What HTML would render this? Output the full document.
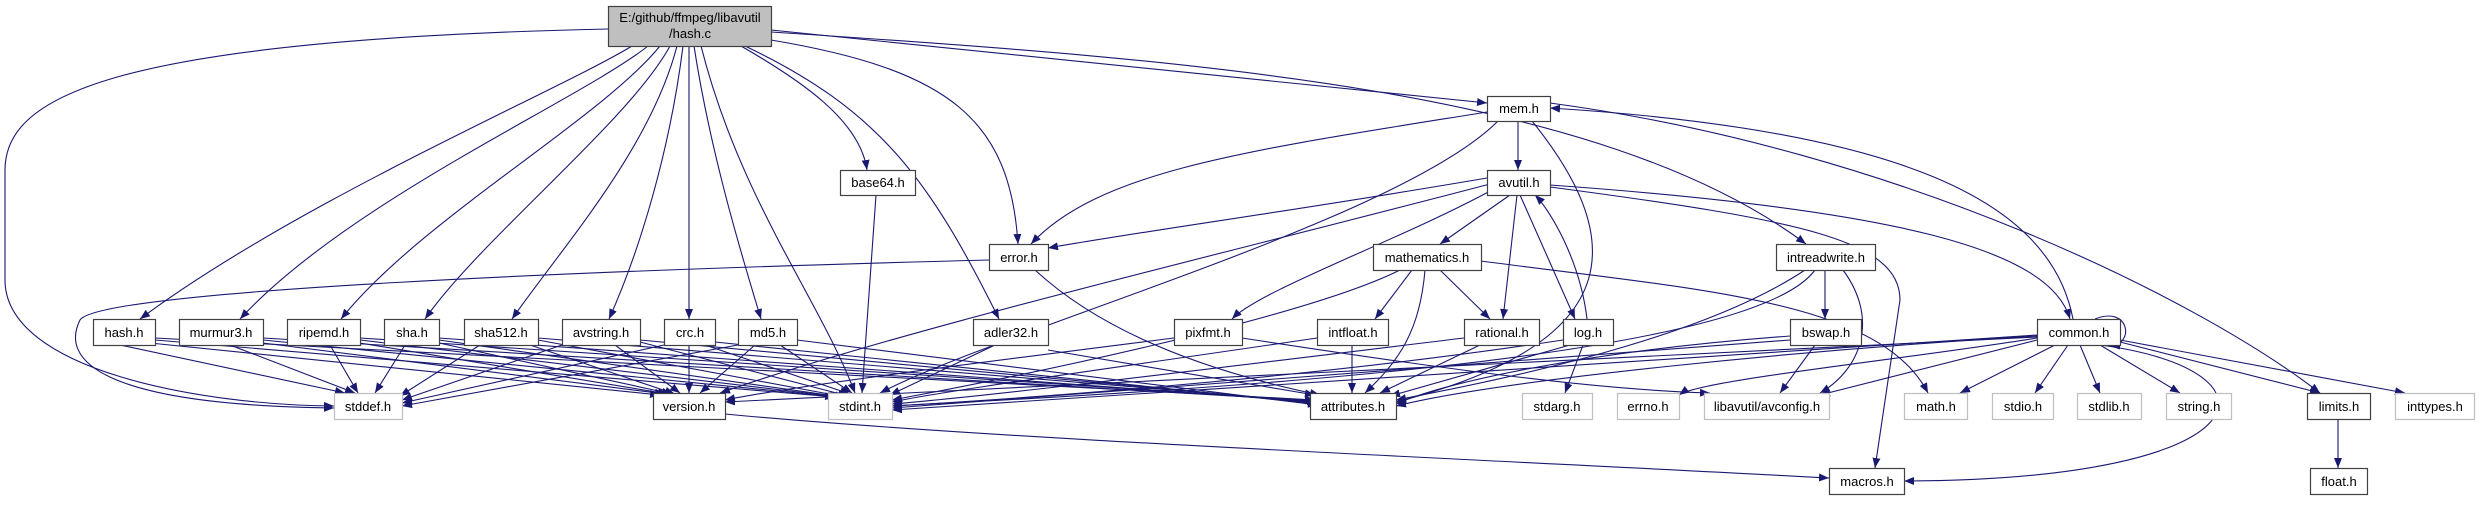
<!DOCTYPE html>
<html><head><meta charset="utf-8"><style>
html,body{margin:0;padding:0;background:#fff;}
svg text{font-family:"Liberation Sans",sans-serif;font-size:13px;text-anchor:middle;fill:#000;}
</style></head><body>
<svg width="2479" height="500" viewBox="0 0 2479 500" xmlns="http://www.w3.org/2000/svg">
<defs><marker id="a" markerWidth="10" markerHeight="8" refX="10" refY="4" orient="auto" markerUnits="userSpaceOnUse"><path d="M0,0 L10,4 L0,8 z" fill="#191970"/></marker></defs>
<rect width="2479" height="500" fill="#fff"/>
<g fill="none" stroke="#191970" stroke-width="1.1" marker-end="url(#a)">
<path d="M632,46 C560,90 300,200 140,319"/>
<path d="M648,46 C580,100 350,200 240,319"/>
<path d="M660,46 C600,120 420,220 341,319"/>
<path d="M670,46 C630,120 480,240 425,319"/>
<path d="M677,46 C650,150 560,250 512,319"/>
<path d="M683,46 C670,150 640,250 609,319"/>
<path d="M689,46 L689,319"/>
<path d="M694,46 C710,150 740,250 761,319"/>
<path d="M701,46 C740,200 820,300 855,393"/>
<path d="M741,46 C800,80 860,120 867,170"/>
<path d="M745,46 C880,110 930,180 999,319"/>
<path d="M771,40 C950,70 1010,120 1018,244"/>
<path d="M771,30 L1487,103"/>
<path d="M771,32 C1200,60 1600,90 1806,244"/>
<path d="M608,29 C100,40 5,100 5,170 L5,280 C5,370 200,405 334,406"/>
<path d="M1487,112 C1250,150 1100,170 1031,244"/>
<path d="M1518,121 L1518,170"/>
<path d="M1498,121 C1400,220 1000,330 880,393"/>
<path d="M1532,121 C1620,230 1640,340 1396,402"/>
<path d="M1550,103 C1900,150 2200,300 2320,393"/>
<path d="M2073,319 C2050,200 1900,130 1550,108"/>
<path d="M1487,178 C1300,210 1150,230 1048,248"/>
<path d="M1490,184 C1200,260 900,330 720,393"/>
<path d="M1492,190 C1400,240 1260,290 1232,319"/>
<path d="M1510,195 L1440,244"/>
<path d="M1517,195 L1503,319"/>
<path d="M1520,195 L1575,319"/>
<path d="M1587,319 C1580,260 1550,210 1535,195"/>
<path d="M1550,185 C1900,210 2050,250 2070,319"/>
<path d="M1550,187 C1800,220 1900,240 1900,300 L1875,468"/>
<path d="M1412,270 L1375,319"/>
<path d="M1440,270 L1490,319"/>
<path d="M1425,270 C1420,330 1400,360 1365,393"/>
<path d="M1400,270 C1300,320 1000,380 892,400"/>
<path d="M1481,261 C1700,290 1880,300 1928,393"/>
<path d="M1352,345 L1352,393"/>
<path d="M1317,338 C1100,370 950,390 892,402"/>
<path d="M1480,345 L1380,393"/>
<path d="M1464,338 C1200,370 1000,395 892,404"/>
<path d="M1583,345 L1565,393"/>
<path d="M1570,345 L1390,396"/>
<path d="M1563,340 C1300,380 1000,400 892,406"/>
<path d="M1174,338 C1000,360 800,385 725,400"/>
<path d="M1242,338 C1450,370 1600,390 1710,393"/>
<path d="M989,260 C600,270 100,290 80,320 C60,360 100,405 334,408"/>
<path d="M1035,270 C1100,330 1200,370 1320,395"/>
<path d="M995,345 L890,395"/>
<path d="M1048,350 L1315,395"/>
<path d="M876,195 L862,393"/>
<path d="M1825,270 L1825,319"/>
<path d="M1843,270 C1880,320 1860,370 1820,393"/>
<path d="M1805,270 C1700,340 1500,380 1396,400"/>
<path d="M1815,270 C1750,360 1200,390 892,406"/>
<path d="M1815,345 L1780,393"/>
<path d="M1790,336 C1600,350 1450,380 1396,404"/>
<path d="M1790,340 L892,408"/>
<path d="M2095,319 C2130,305 2135,345 2110,346"/>
<path d="M2055,345 L1960,393"/>
<path d="M2068,345 L2035,393"/>
<path d="M2080,345 L2100,393"/>
<path d="M2100,345 L2180,393"/>
<path d="M2120,342 L2320,393"/>
<path d="M2120,340 L2405,393"/>
<path d="M2100,345 C2290,370 2270,480 1904,481"/>
<path d="M2037,340 L1820,395"/>
<path d="M2037,336 C1800,350 1500,380 1396,406"/>
<path d="M2037,335 L892,410"/>
<path d="M2037,338 C1900,360 1700,380 1679,395"/>
<path d="M2037,337 L725,402"/>
<path d="M2338,419 L2338,468"/>
<path d="M725,414 C1000,440 1500,460 1829,478"/>
<path d="M120,345 L345,393"/><path d="M150,343 L660,395"/><path d="M155,340 L835,397"/><path d="M155,338 L1315,400"/>
<path d="M230,345 L355,393"/><path d="M263,343 L665,394"/><path d="M263,340 L838,397"/><path d="M263,338 L1315,401"/>
<path d="M330,345 L358,393"/><path d="M360,343 L668,394"/><path d="M360,340 L840,397"/><path d="M360,338 L1316,401"/>
<path d="M405,345 L375,393"/><path d="M439,343 L672,394"/><path d="M439,340 L842,397"/><path d="M439,338 L1317,402"/>
<path d="M480,345 L400,396"/><path d="M530,345 L675,394"/><path d="M538,340 L845,397"/><path d="M538,338 L1318,402"/>
<path d="M562,345 L402,400"/><path d="M615,345 L680,393"/><path d="M640,342 L848,396"/><path d="M640,340 L1318,403"/>
<path d="M664,345 L402,403"/><path d="M689,345 L689,393"/><path d="M705,345 L850,394"/><path d="M715,342 L1318,404"/>
<path d="M738,345 L402,406"/><path d="M755,345 L700,393"/><path d="M780,345 L852,393"/><path d="M797,340 L1318,405"/>
</g>
<g stroke-width="1.2">
<rect x="608.5" y="6.5" width="163" height="40" fill="#bfbfbf" stroke="#404040"/>
<g fill="#fff" stroke="#404040">
<rect x="93.5" y="319.5" width="62" height="26"/><rect x="179.5" y="319.5" width="84" height="26"/>
<rect x="287.5" y="319.5" width="73" height="26"/><rect x="384.5" y="319.5" width="55" height="26"/>
<rect x="464.5" y="319.5" width="74" height="26"/><rect x="562.5" y="319.5" width="78" height="26"/>
<rect x="664.5" y="319.5" width="51" height="26"/><rect x="738.5" y="319.5" width="59" height="26"/>
<rect x="653.5" y="393.5" width="72" height="26"/><rect x="1310.5" y="393.5" width="86" height="26"/>
<rect x="2307.5" y="393.5" width="63" height="26"/>
<rect x="1487.5" y="96.5" width="63" height="25"/><rect x="840.5" y="170.5" width="75" height="25"/>
<rect x="1487.5" y="170.5" width="63" height="25"/>
<rect x="989.5" y="244.5" width="59" height="26"/><rect x="1373.5" y="244.5" width="108" height="26"/>
<rect x="1776.5" y="244.5" width="99" height="26"/>
<rect x="973.5" y="319.5" width="75" height="26"/><rect x="1174.5" y="319.5" width="68" height="26"/>
<rect x="1317.5" y="319.5" width="71" height="26"/><rect x="1464.5" y="319.5" width="75" height="26"/>
<rect x="1563.5" y="319.5" width="50" height="26"/><rect x="1790.5" y="319.5" width="71" height="26"/>
<rect x="2037.5" y="319.5" width="83" height="26"/>
<rect x="1829.5" y="468.5" width="75" height="26"/><rect x="2310.5" y="468.5" width="57" height="26"/>
</g>
<g fill="#fff" stroke="#bfbfbf">
<rect x="334.5" y="393.5" width="68" height="26"/><rect x="828.5" y="393.5" width="64" height="26"/>
<rect x="1522.5" y="393.5" width="70" height="26"/><rect x="1617.5" y="393.5" width="62" height="26"/>
<rect x="1704.5" y="393.5" width="125" height="26"/><rect x="1904.5" y="393.5" width="63" height="26"/>
<rect x="1992.5" y="393.5" width="61" height="26"/><rect x="2077.5" y="393.5" width="64" height="26"/>
<rect x="2166.5" y="393.5" width="65" height="26"/><rect x="2395.5" y="393.5" width="79" height="26"/>
</g>
</g>
<text x="690" y="22">E:/github/ffmpeg/libavutil</text><text x="690" y="38">/hash.c</text>
<text x="124" y="337">hash.h</text><text x="221" y="337">murmur3.h</text><text x="324" y="337">ripemd.h</text>
<text x="412" y="337">sha.h</text><text x="501" y="337">sha512.h</text><text x="601" y="337">avstring.h</text>
<text x="690" y="337">crc.h</text><text x="768" y="337">md5.h</text>
<text x="368" y="411">stddef.h</text><text x="689" y="411">version.h</text><text x="860" y="411">stdint.h</text>
<text x="1353" y="411">attributes.h</text><text x="1557" y="411">stdarg.h</text><text x="1648" y="411">errno.h</text>
<text x="1767" y="411">libavutil/avconfig.h</text><text x="1936" y="411">math.h</text><text x="2023" y="411">stdio.h</text>
<text x="2109" y="411">stdlib.h</text><text x="2199" y="411">string.h</text><text x="2339" y="411">limits.h</text>
<text x="2435" y="411">inttypes.h</text>
<text x="1519" y="113">mem.h</text><text x="878" y="187">base64.h</text><text x="1519" y="187">avutil.h</text>
<text x="1019" y="262">error.h</text><text x="1427" y="262">mathematics.h</text><text x="1826" y="262">intreadwrite.h</text>
<text x="1011" y="337">adler32.h</text><text x="1208" y="337">pixfmt.h</text><text x="1353" y="337">intfloat.h</text>
<text x="1502" y="337">rational.h</text><text x="1588" y="337">log.h</text><text x="1826" y="337">bswap.h</text>
<text x="2079" y="337">common.h</text>
<text x="1867" y="486">macros.h</text><text x="2339" y="486">float.h</text>
</svg>
</body></html>
